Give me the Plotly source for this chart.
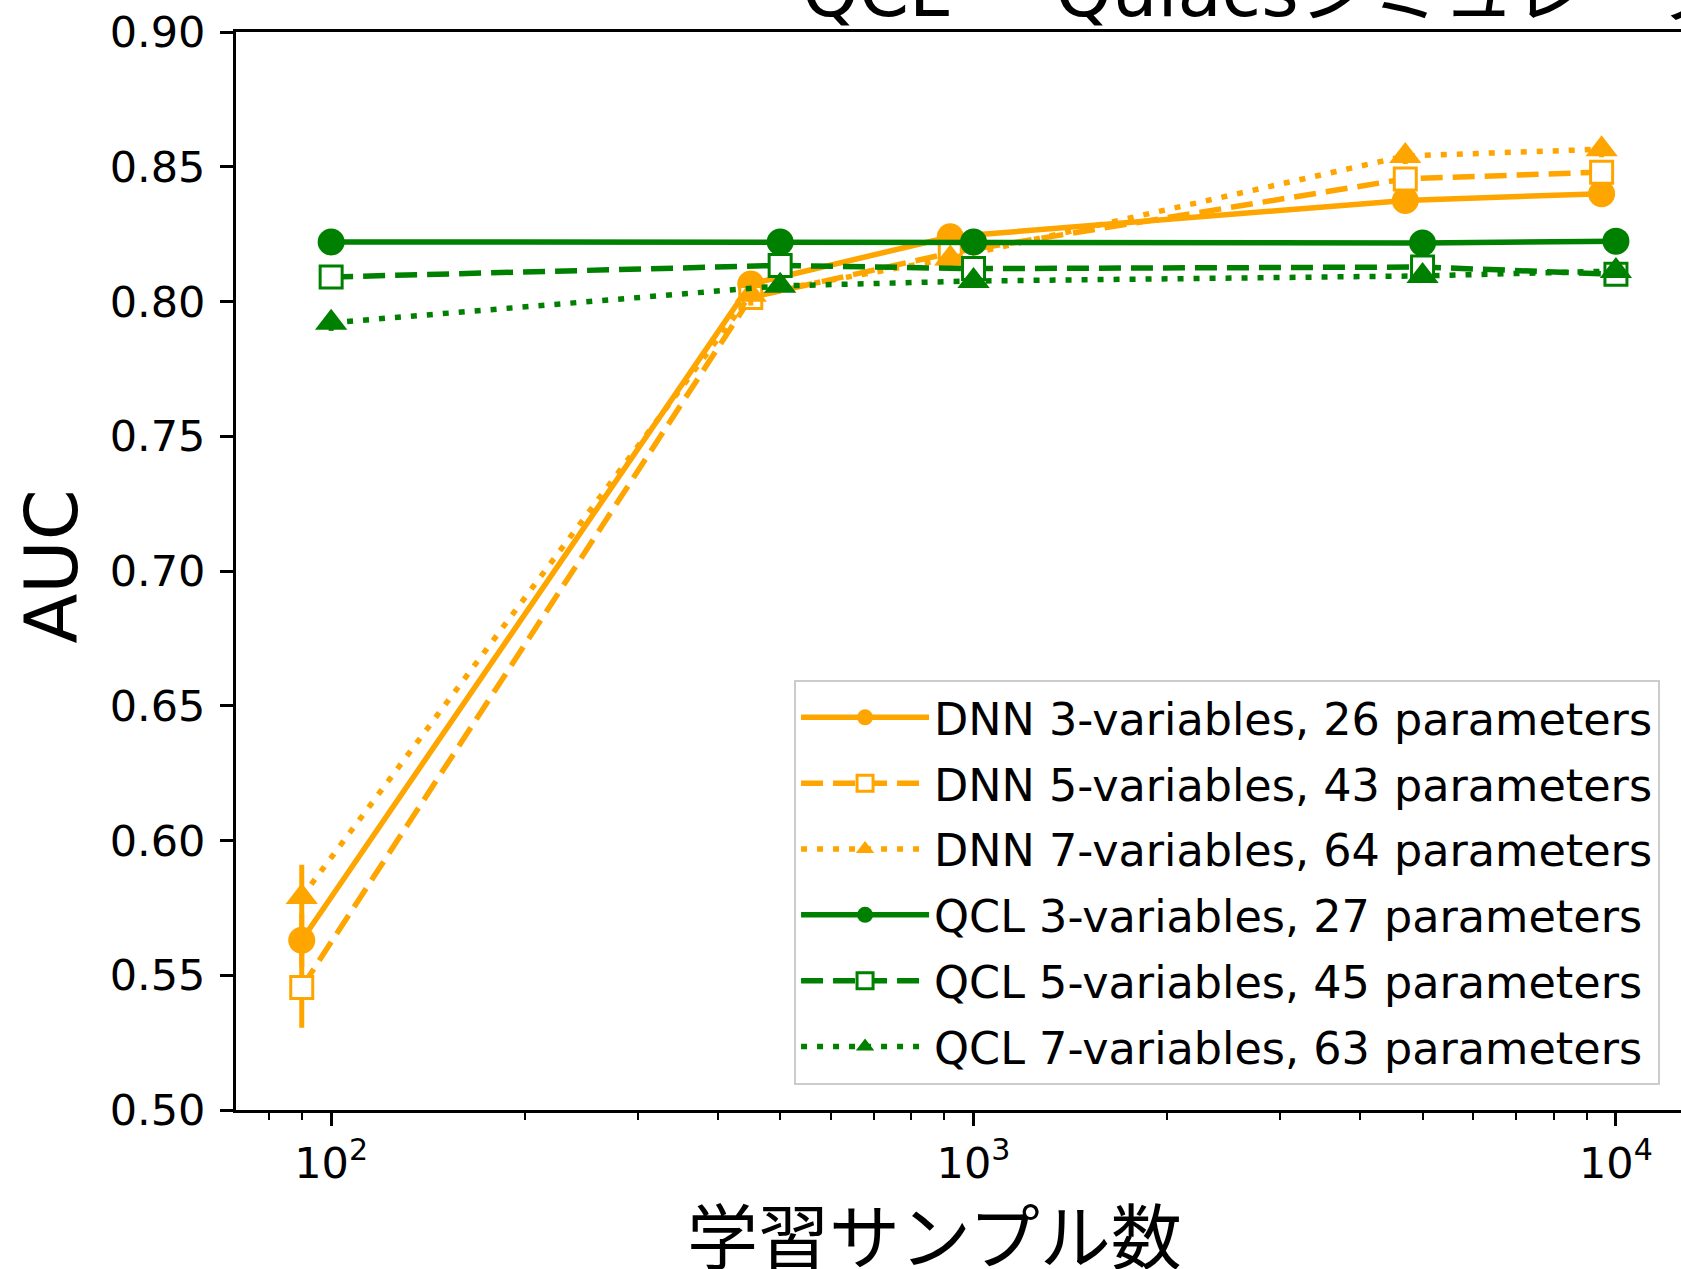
import plotly.graph_objects as go

# ---- data ----
dnn_x = [90, 450, 920, 4700, 9500]
qcl_x = [100, 500, 1000, 5000, 10000]

dnn3_y = [0.563, 0.8065, 0.824, 0.8375, 0.840]
dnn3_e = [0.010, 0.004, 0.003, 0.002, 0.002]
dnn5_y = [0.5455, 0.8015, 0.818, 0.8455, 0.848]
dnn5_e = [0.015, 0.004, 0.004, 0.003, 0.002]
dnn7_y = [0.579, 0.8025, 0.816, 0.854, 0.8565]
dnn7_e = [0.012, 0.004, 0.004, 0.003, 0.003]

qcl3_y = [0.8221, 0.8221, 0.8221, 0.8217, 0.8224]
qcl3_e = [0.002, 0.002, 0.002, 0.002, 0.002]
qcl5_y = [0.8091, 0.8134, 0.8122, 0.8128, 0.8101]
qcl5_e = [0.002, 0.002, 0.002, 0.002, 0.002]
qcl7_y = [0.7921, 0.8058, 0.8076, 0.8095, 0.8113]
qcl7_e = [0.003, 0.002, 0.002, 0.002, 0.002]

names = [
    "DNN 3-variables, 26 parameters",
    "DNN 5-variables, 43 parameters",
    "DNN 7-variables, 64 parameters",
    "QCL 3-variables, 27 parameters",
    "QCL 5-variables, 45 parameters",
    "QCL 7-variables, 63 parameters",
]

x_tickvals = [100, 1000, 10000]
x_ticktext = ["10<sup>2</sup>", "10<sup>3</sup>", "10<sup>4</sup>"]
minor_digits = [2, 3, 4, 5, 6, 7, 8, 9]
minor_decades = [10, 100, 1000]
y_tickvals = [0.50, 0.55, 0.60, 0.65, 0.70, 0.75, 0.80, 0.85, 0.90]

title_text = "QCL − Qulacsシミュレータ"
xlabel = "学習サンプル数"
ylabel = "AUC"

ORANGE = "#FFA500"
GREEN = "#008000"
LW = 5.5
DASH = "22px,10px"
DOT = "6px,10px"

series = [
    (dnn_x, dnn3_y, dnn3_e, ORANGE, "solid", "circle", ORANGE),
    (dnn_x, dnn5_y, dnn5_e, ORANGE, DASH, "square", "white"),
    (dnn_x, dnn7_y, dnn7_e, ORANGE, DOT, "triangle-up", ORANGE),
    (qcl_x, qcl3_y, qcl3_e, GREEN, "solid", "circle", GREEN),
    (qcl_x, qcl5_y, qcl5_e, GREEN, DASH, "square", "white"),
    (qcl_x, qcl7_y, qcl7_e, GREEN, DOT, "triangle-up", GREEN),
]

fig = go.Figure()
for i, (xs, ys, es, col, dash, sym, fill) in enumerate(series):
    size = 27 if sym == "circle" else (22 if sym == "square" else 28)
    fig.add_trace(go.Scatter(
        x=xs, y=ys, name=names[i], mode="lines+markers",
        legendgroup="g%d" % i,
        line=dict(color=col, width=LW, dash=dash),
        marker=dict(symbol=sym, size=size, color=fill,
                    line=dict(color=col, width=3 if sym == "square" else 0)),
        error_y=dict(type="data", array=es, visible=True, color=col,
                     thickness=5, width=0),
    ))

minor_vals = [d * m for m in minor_decades for d in minor_digits]
minor_vals = [v for v in minor_vals if v not in x_tickvals]

fig.update_layout(
    width=1681, height=1269,
    margin=dict(l=236, r=0, t=32, b=159),
    paper_bgcolor="white", plot_bgcolor="white",
    font=dict(family="DejaVu Sans, Noto Sans CJK JP", size=43, color="black"),
    showlegend=True,
    legend=dict(
        x=0.9855, y=0.0233, xanchor="right", yanchor="bottom",
        bgcolor="rgba(255,255,255,0.8)", bordercolor="#cccccc", borderwidth=2,
        font=dict(family="DejaVu Sans", size=44.5, color="black"),
        tracegroupgap=5, itemwidth=128,
    ),
    xaxis=dict(
        type="log", range=[1.8519, 4.1013],
        tickmode="array", tickvals=x_tickvals, ticktext=x_ticktext,
        ticks="outside", ticklen=13, tickwidth=2.5, tickcolor="black",
        showline=True, linecolor="black", linewidth=3, mirror=True,
        showgrid=False, zeroline=False,
        tickfont=dict(family="DejaVu Sans", size=43),
        minor=dict(tickmode="array", tickvals=minor_vals, ticks="outside",
                   ticklen=7, tickwidth=2, tickcolor="black", showgrid=False),
    ),
    yaxis=dict(
        range=[0.50, 0.90], tickmode="array", tickvals=y_tickvals,
        ticktext=["%.2f" % v for v in y_tickvals],
        ticks="outside", ticklen=13, tickwidth=2.5, tickcolor="black",
        showline=True, linecolor="black", linewidth=3, mirror=False,
        showgrid=False, zeroline=False,
        tickfont=dict(family="DejaVu Sans", size=43),
        ticklabelstandoff=6,
    ),
    annotations=[
        dict(text=xlabel, xref="paper", yref="paper", x=0.4837, y=-0.1131,
             xanchor="center", yanchor="middle", showarrow=False,
             font=dict(family="Noto Sans CJK JP", size=71, color="black")),
        dict(text=ylabel, xref="paper", yref="paper", x=-0.1277, y=0.5045,
             xanchor="center", yanchor="middle", showarrow=False, textangle=-90,
             font=dict(family="DejaVu Sans", size=73, color="black")),
        dict(text=title_text, xref="paper", yref="paper", x=0.3903, y=0.997,
             xanchor="left", yanchor="bottom", showarrow=False,
             font=dict(family="DejaVu Sans, Noto Sans CJK JP", size=72, color="black")),
    ],
)

fig.write_html("out.html")
